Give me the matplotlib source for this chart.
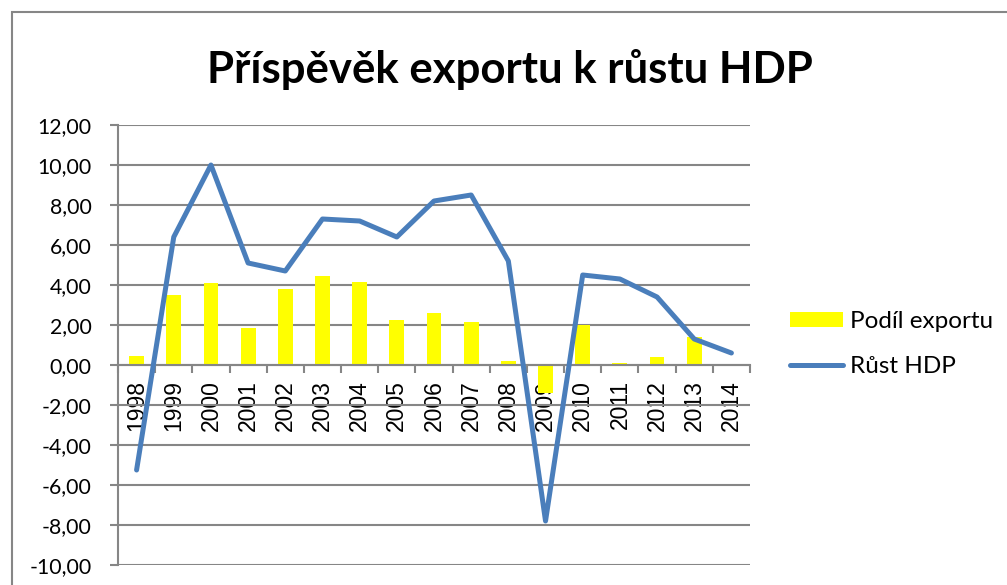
import matplotlib
matplotlib.use("Agg")
import matplotlib.pyplot as plt
import numpy as np
from matplotlib.patches import Rectangle
from matplotlib.ticker import FuncFormatter

years = ['1998', '1999', '2000', '2001', '2002', '2003', '2004', '2005', '2006',
         '2007', '2008', '2009', '2010', '2011', '2012', '2013', '2014']
podil_exportu = [0.45, 3.5, 4.1, 1.85, 3.8, 4.45, 4.15, 2.25, 2.6,
                 2.15, 0.2, -1.4, 2.0, 0.1, 0.38, 1.38, 0.0]
rust_hdp = [-5.25, 6.4, 10.0, 5.1, 4.7, 7.3, 7.2, 6.4, 8.2,
            8.5, 5.2, -7.8, 4.5, 4.3, 3.4, 1.3, 0.6]

title = 'Příspěvěk exportu k růstu HDP'
label_bar = 'Podíl exportu'
label_line = 'Růst HDP'

grid_col = '#868686'
line_col = '#4A7EBB'

fig = plt.figure(figsize=(10.07, 5.85), dpi=100)
ax = fig.add_axes([118 / 1007, 1 - 565 / 585, (750 - 118) / 1007, 440 / 585])

x = np.arange(len(years))
bars = ax.bar(x, podil_exportu, width=0.4, color='#FFFF00', zorder=2, label=label_bar)
line, = ax.plot(x, rust_hdp, color=line_col, lw=3.6, solid_capstyle='round',
                solid_joinstyle='round', zorder=3, label=label_line)

ax.set_xlim(-0.5, len(years) - 0.5)
ax.set_ylim(-10, 12)
ax.set_yticks(np.arange(-10, 13, 2))
ax.yaxis.set_major_formatter(FuncFormatter(lambda v, p: ('%.2f' % v).replace('.', ',')))
ax.grid(axis='y', color=grid_col, lw=1.5)
ax.set_axisbelow(True)

for s in ['top', 'right']:
    ax.spines[s].set_visible(False)
ax.spines['left'].set_color(grid_col)
ax.spines['left'].set_linewidth(1.5)
ax.spines['bottom'].set_position(('data', 0))
ax.spines['bottom'].set_color(grid_col)
ax.spines['bottom'].set_linewidth(1.5)

ax.set_xticks(x)
ax.set_xticklabels(years, rotation=90, va='top', family='Liberation Sans', fontsize=16.5)
ax.set_xticks(np.arange(-0.5, len(years), 1), minor=True)
ax.tick_params(axis='x', which='major', length=0, pad=11)
ax.tick_params(axis='x', which='minor', length=6, width=1.5, color=grid_col, direction='out')
ax.tick_params(axis='y', length=6, width=1.5, color=grid_col, pad=13)
for t in ax.get_yticklabels():
    t.set_family('Lato')
    t.set_fontsize(15.3)

fig.text(0.506, 1 - 70 / 585, title, ha='center', va='center',
         family='Lato', fontweight='bold', fontsize=31.5)

fig.legend(handles=[bars, line], loc='center left', bbox_to_anchor=(790 / 1007, 1 - 344 / 585),
           frameon=False, borderpad=0, borderaxespad=0, handlelength=2.2, handleheight=0.6,
           handletextpad=0.25, labelspacing=1.0, prop={'family': 'Lato', 'size': 17.5})

fig.patches.append(Rectangle((12 / 1007, -0.1), 1.1, 1 - 12 / 585 + 0.1, transform=fig.transFigure,
                             fill=False, edgecolor=grid_col, lw=1.5))

fig.savefig('out.png', dpi=100)
